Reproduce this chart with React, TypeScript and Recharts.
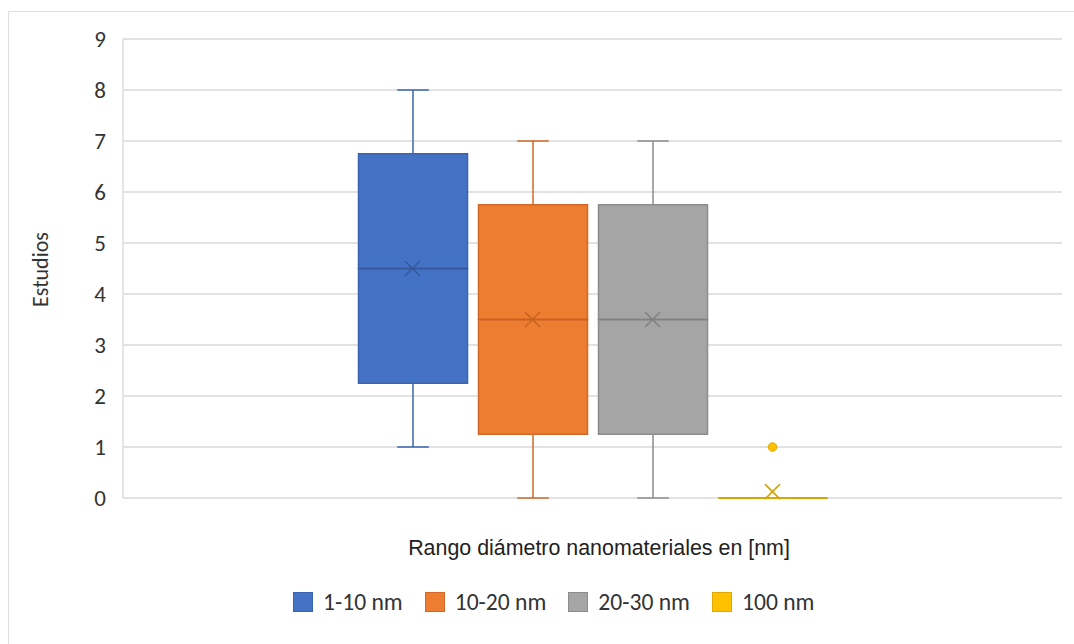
import { Bar, CartesianGrid, ComposedChart, Legend, Scatter, XAxis, YAxis } from "recharts";

// estadísticos por rango de diámetro
const series = ["1-10 nm", "10-20 nm", "20-30 nm", "100 nm"];
const minimos = [1, 0, 0, 0];
const cuartil1 = [2.25, 1.25, 1.25, 0];
const medianas = [4.5, 3.5, 3.5, 0];
const cuartil3 = [6.75, 5.75, 5.75, 0];
const maximos = [8, 7, 7, 0];
const medias = [4.5, 3.5, 3.5, 0.125];
const atipicos: (number | null)[] = [null, null, null, 1];
const yTicks = [0, 1, 2, 3, 4, 5, 6, 7, 8, 9];

const fills = ["#4472C4", "#ED7D31", "#A5A5A5", "#FFC000"];
const strokes = ["#3A64AE", "#D2692A", "#8C8C8C", "#E0A800"];
const darks = ["#34589A", "#C5621F", "#808080", "#D4A000"];

const FONT = "Carlito, Calibri, 'Open Sans', sans-serif";
const TITLE_FONT = "'Liberation Sans', Arial, sans-serif";
const TXT = "#333333";

const data = series.map((name, i) => ({
  name,
  idx: i,
  base: minimos[i],
  bigoteInf: cuartil1[i] - minimos[i],
  cajaInf: medianas[i] - cuartil1[i],
  cajaSup: cuartil3[i] - medianas[i],
  bigoteSup: maximos[i] - cuartil3[i],
  media: medias[i],
  atipico: atipicos[i],
}));

function Nada() {
  return <g />;
}

function BigoteInf(p: any) {
  const { x, y, width, height, payload } = p;
  const c = strokes[payload.idx];
  const cx = x + width / 2;
  const cap = width * 0.145;
  return (
    <g>
      <line x1={cx} x2={cx} y1={y} y2={y + height} stroke={c} strokeWidth={1.5} />
      <line x1={cx - cap} x2={cx + cap} y1={y + height} y2={y + height} stroke={c} strokeWidth={1.5} />
    </g>
  );
}

function BigoteSup(p: any) {
  const { x, y, width, height, payload } = p;
  const c = strokes[payload.idx];
  const cx = x + width / 2;
  const cap = width * 0.145;
  return (
    <g>
      <line x1={cx} x2={cx} y1={y} y2={y + height} stroke={c} strokeWidth={1.5} />
      <line x1={cx - cap} x2={cx + cap} y1={y} y2={y} stroke={c} strokeWidth={1.5} />
    </g>
  );
}

function CajaInf(p: any) {
  const { x, y, width, height, payload } = p;
  const i = payload.idx;
  return (
    <path
      d={`M${x},${y}H${x + width}V${y + height}H${x}Z`}
      fill={fills[i]}
      stroke={strokes[i]}
      strokeWidth={1.5}
    />
  );
}

function CajaSup(p: any) {
  const { x, y, width, height, payload } = p;
  const i = payload.idx;
  return (
    <g>
      <path
        d={`M${x},${y}H${x + width}V${y + height}H${x}Z`}
        fill={fills[i]}
        stroke={strokes[i]}
        strokeWidth={1.5}
      />
      <line x1={x} x2={x + width} y1={y + height} y2={y + height} stroke={darks[i]} strokeWidth={1.5} />
    </g>
  );
}

function Media(p: any) {
  const { cx, cy, payload } = p;
  if (cx == null || cy == null || isNaN(cy)) return <g />;
  const c = darks[payload.idx];
  const s = 7.5;
  return (
    <g>
      <line x1={cx - s} x2={cx + s} y1={cy - s} y2={cy + s} stroke={c} strokeWidth={1.5} />
      <line x1={cx - s} x2={cx + s} y1={cy + s} y2={cy - s} stroke={c} strokeWidth={1.5} />
    </g>
  );
}

function Atipico(p: any) {
  const { cx, cy, payload } = p;
  if (payload.atipico == null || cy == null || isNaN(cy)) return <g />;
  return <circle cx={cx} cy={cy} r={4.3} fill={fills[payload.idx]} stroke={strokes[payload.idx]} strokeWidth={1} />;
}

function Leyenda() {
  return (
    <div
      style={{
        height: 52,
        display: "flex",
        alignItems: "flex-start",
        paddingLeft: 293,
        fontFamily: FONT,
        fontSize: 23.6,
        color: TXT,
      }}
    >
      {series.map((s, i) => (
        <div key={s} style={{ display: "flex", alignItems: "center", height: 20, marginRight: 22 }}>
          <span
            style={{
              display: "inline-block",
              width: 20,
              height: 20,
              background: fills[i],
              border: `1px solid ${strokes[i]}`,
              boxSizing: "border-box",
              marginRight: 10,
            }}
          />
          <span style={{ whiteSpace: "nowrap", lineHeight: "20px" }}>{s}</span>
        </div>
      ))}
    </div>
  );
}

export default function App() {
  return (
    <div style={{ position: "absolute", left: 0, top: 0, width: 1074, height: 644, overflow: "hidden", background: "#fff" }}>
      <div
        style={{
          position: "absolute",
          left: 8,
          top: 11,
          width: 1100,
          height: 700,
          border: "1px solid #DEDEDE",
        }}
      />
      <div style={{ position: "absolute", left: 0, top: 0 }}>
        <ComposedChart width={1074} height={644} data={data} margin={{ top: 39, right: 12, left: 10, bottom: 0 }}>
          <CartesianGrid vertical={false} stroke="#D9D9D9" strokeWidth={1.3} />
          <XAxis
            dataKey="name"
            type="category"
            tick={false}
            tickLine={false}
            axisLine={false}
            height={94}
            padding={{ left: 229.5, right: 229.5 }}
            label={{
              content: (props: any) => {
                const vb = props.viewBox;
                return (
                  <text
                    x={vb.x + 476}
                    y={vb.y + 57}
                    textAnchor="middle"
                    fontFamily={TITLE_FONT}
                    fontSize={21.4}
                    fill="#222222"
                  >
                    Rango diámetro nanomateriales en [nm]
                  </text>
                );
              },
            }}
          />
          <YAxis
            type="number"
            domain={[0, 9]}
            ticks={yTicks}
            width={113}
            tickLine={false}
            axisLine={{ stroke: "#D9D9D9", strokeWidth: 1.3 }}
            tickMargin={11}
            tick={{ fill: TXT, fontSize: 23, fontFamily: FONT }}
            label={{
              content: (props: any) => {
                const vb = props.viewBox;
                const x = vb.x + 30;
                const y = vb.y + vb.height / 2 + 1;
                return (
                  <text
                    x={x}
                    y={y}
                    transform={`rotate(-90 ${x} ${y})`}
                    textAnchor="middle"
                    dominantBaseline="central"
                    fontFamily={FONT}
                    fontSize={22}
                    fill={TXT}
                  >
                    Estudios
                  </text>
                );
              },
            }}
          />
          <Legend verticalAlign="bottom" content={Leyenda} wrapperStyle={{ left: 0, width: 1074 }} />
          <Bar dataKey="base" stackId="box" barSize={109} shape={Nada} isAnimationActive={false} legendType="none" />
          <Bar dataKey="bigoteInf" stackId="box" barSize={109} shape={BigoteInf} isAnimationActive={false} legendType="none" />
          <Bar dataKey="cajaInf" stackId="box" barSize={109} shape={CajaInf} isAnimationActive={false} legendType="none" />
          <Bar dataKey="cajaSup" stackId="box" barSize={109} shape={CajaSup} isAnimationActive={false} legendType="none" />
          <Bar dataKey="bigoteSup" stackId="box" barSize={109} shape={BigoteSup} isAnimationActive={false} legendType="none" />
          <Scatter dataKey="media" shape={Media} isAnimationActive={false} legendType="none" />
          <Scatter dataKey="atipico" shape={Atipico} isAnimationActive={false} legendType="none" />
        </ComposedChart>
      </div>
    </div>
  );
}
